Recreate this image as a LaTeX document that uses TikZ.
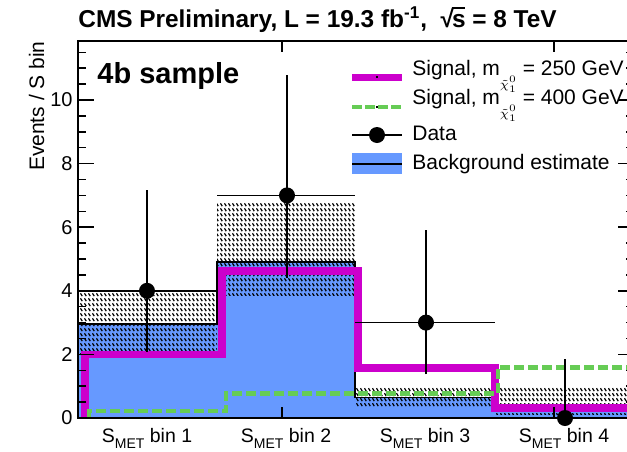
\documentclass[tikz,border=0pt]{standalone}
\usepackage{fontspec}
\setmainfont{Liberation Sans}
\usetikzlibrary{patterns}
\definecolor{sigmag}{RGB}{204,0,204}
\definecolor{siggrn}{RGB}{102,204,85}
\definecolor{bkgblue}{RGB}{102,153,255}
\pgfdeclarepatternformonly{cmshatch}{\pgfqpoint{0pt}{0pt}}{\pgfqpoint{2pt}{2.5pt}}{\pgfqpoint{2pt}{2.5pt}}{%
  \pgfsetlinewidth{0.75pt}%
  \pgfpathmoveto{\pgfqpoint{0.3pt}{2.2pt}}%
  \pgfpathlineto{\pgfqpoint{1.4pt}{0.5pt}}%
  \pgfusepath{stroke}%
}
\newcommand\rootS{\mbox{√\kern-0.08em\rlap{\rule[0.74em]{0.55em}{0.07em}}s}}
\newcommand\chisub{\raisebox{-6.5pt}[0pt][0pt]{\fontsize{6.5}{8}\selectfont$\tilde{\chi}^{0}_{1}$}}
\begin{document}
\begin{tikzpicture}[x=0.5pt,y=-0.5pt,
  frame/.style={line width=0.75pt, black},
  bkgline/.style={line width=0.75pt, black},
  hatch/.style={pattern=cmshatch, pattern color=black},
  sigA/.style={line width=3.75pt, sigmag, line join=miter},
  sigB/.style={line width=2.4pt, siggrn, dash pattern=on 5pt off 2pt, line join=miter},
  errbar/.style={line width=0.75pt, black},
  datapt/.style={circle, fill=black, inner sep=0pt, minimum size=8pt},
  ticklab/.style={font=\fontsize{10}{12}\selectfont, inner sep=0pt},
  xlab/.style={font=\fontsize{9.75}{12}\selectfont, inner sep=0pt, anchor=base},
  legtext/.style={font=\fontsize{10.5}{12}\selectfont, inner sep=0pt, anchor=base west},
]
\useasboundingbox (0,0) rectangle (627,451);
\clip (0,0) rectangle (627,451);
\fill[white] (0,0) rectangle (627,451);

\begin{scope}[shift={(0,418)},yscale=-31.8]
  % background estimate
  \fill[bkgblue] (78,0) -- (78,2.95) -- (217,2.95) -- (217,4.9) -- (355,4.9) -- (355,0.65) -- (495,0.65) -- (495,0.4) -- (640,0.4) -- (640,0) -- cycle;
  \fill[hatch] (78,1.9) rectangle (217,4.0);
  \fill[hatch] (217,3.85) rectangle (355,6.73);
  \fill[hatch] (355,0.35) rectangle (495,0.95);
  \fill[hatch] (495,0.1) rectangle (640,0.95);
  \draw[bkgline] (78,2.95) -- (217,2.95) -- (217,4.9) -- (355,4.9) -- (355,0.65) -- (495,0.65) -- (495,0.4) -- (640,0.4);
  % signals
  \draw[sigA] (85,0) -- (85,2.0) -- (222,2.0) -- (222,4.62) -- (358,4.62) -- (358,1.57) -- (495,1.57) -- (495,0.31) -- (640,0.31);
  \draw[sigB] (89,0) -- (89,0.22) -- (226,0.22) -- (226,0.78) -- (498,0.78) -- (498,1.6) -- (640,1.6);
  % data
  \draw[errbar] (147,2.09) -- (147,7.16);
  \draw[errbar] (78,4) -- (217,4);
  \draw[errbar] (287,4.4) -- (287,10.8);
  \draw[errbar] (217,7) -- (355,7);
  \draw[errbar] (426,1.37) -- (426,5.92);
  \draw[errbar] (355,3) -- (495,3);
  \draw[errbar] (565,0) -- (565,1.86);
  \node[datapt] (d1) at (147,4) {};
  \node[datapt] (d2) at (287,7) {};
  \node[datapt] (d3) at (426,3) {};
  \node[datapt] (d4) at (565,0) {};
  % y ticks
  \foreach \v in {0,0.5,...,11.5} {
    \draw[frame] (78,\v) -- ++(8,0);
    \draw[frame] (634,\v) -- ++(-8,0);
  }
  \foreach \v in {0,2,4,6,8,10} {
    \draw[frame] (78,\v) -- ++(16,0);
    \draw[frame] (634,\v) -- ++(-16,0);
    \node[ticklab, anchor=east] (yl\v) at (73,\v) {\v};
  }
\end{scope}

% frame
\draw[frame] (78,41) rectangle (634,418);
\foreach \x in {282,554} {
  \draw[frame] (\x,418) -- (\x,407);
  \draw[frame] (\x,41) -- (\x,52);
}

% x labels
\node[xlab] (xl1) at (147,442) {S\raisebox{-3pt}{\fontsize{7}{8}\selectfont MET} bin 1};
\node[xlab] (xl2) at (286,442) {S\raisebox{-3pt}{\fontsize{7}{8}\selectfont MET} bin 2};
\node[xlab] (xl3) at (425,442) {S\raisebox{-3pt}{\fontsize{7}{8}\selectfont MET} bin 3};
\node[xlab] (xl4) at (564,442) {S\raisebox{-3pt}{\fontsize{7}{8}\selectfont MET} bin 4};

% y title
\node[font=\fontsize{10.5}{12}\selectfont, inner sep=0pt, anchor=base east, rotate=90] (ytitle) at (44,41) {Events / S bin};

% title
\node[font=\bfseries\fontsize{12.2}{14}\selectfont, inner sep=0pt, anchor=base west] (title) at (78,27) {CMS Preliminary, L = 19.3 fb\textsuperscript{-1}, \ \rootS\ = 8 TeV};

% sample label
\node[font=\bfseries\fontsize{14.5}{16}\selectfont, inner sep=0pt, anchor=base west] (sample) at (97,83) {4b sample};

% legend
\draw[line width=3.5pt, sigmag] (352,77) -- (402,77);
\fill[black] (376,76) rectangle (378,78);
\node[legtext] (leg1) at (412,75) {Signal, m\chisub{} = 250 GeV};
\draw[line width=2.4pt, siggrn, dash pattern=on 5pt off 1.5pt] (352,107) -- (402,107);
\fill[black] (376,106) rectangle (378,108);
\node[legtext] (leg2) at (412,104) {Signal, m\chisub{} = 400 GeV};
\draw[errbar] (352,135) -- (402,135);
\node[datapt] (legpt) at (377,135) {};
\node[legtext] (leg3) at (412,140) {Data};
\fill[bkgblue] (352,153) rectangle (402,174);
\draw[bkgline] (352,164) -- (402,164);
\node[legtext] (leg4) at (412,169) {Background estimate};
\end{tikzpicture}
\end{document}
